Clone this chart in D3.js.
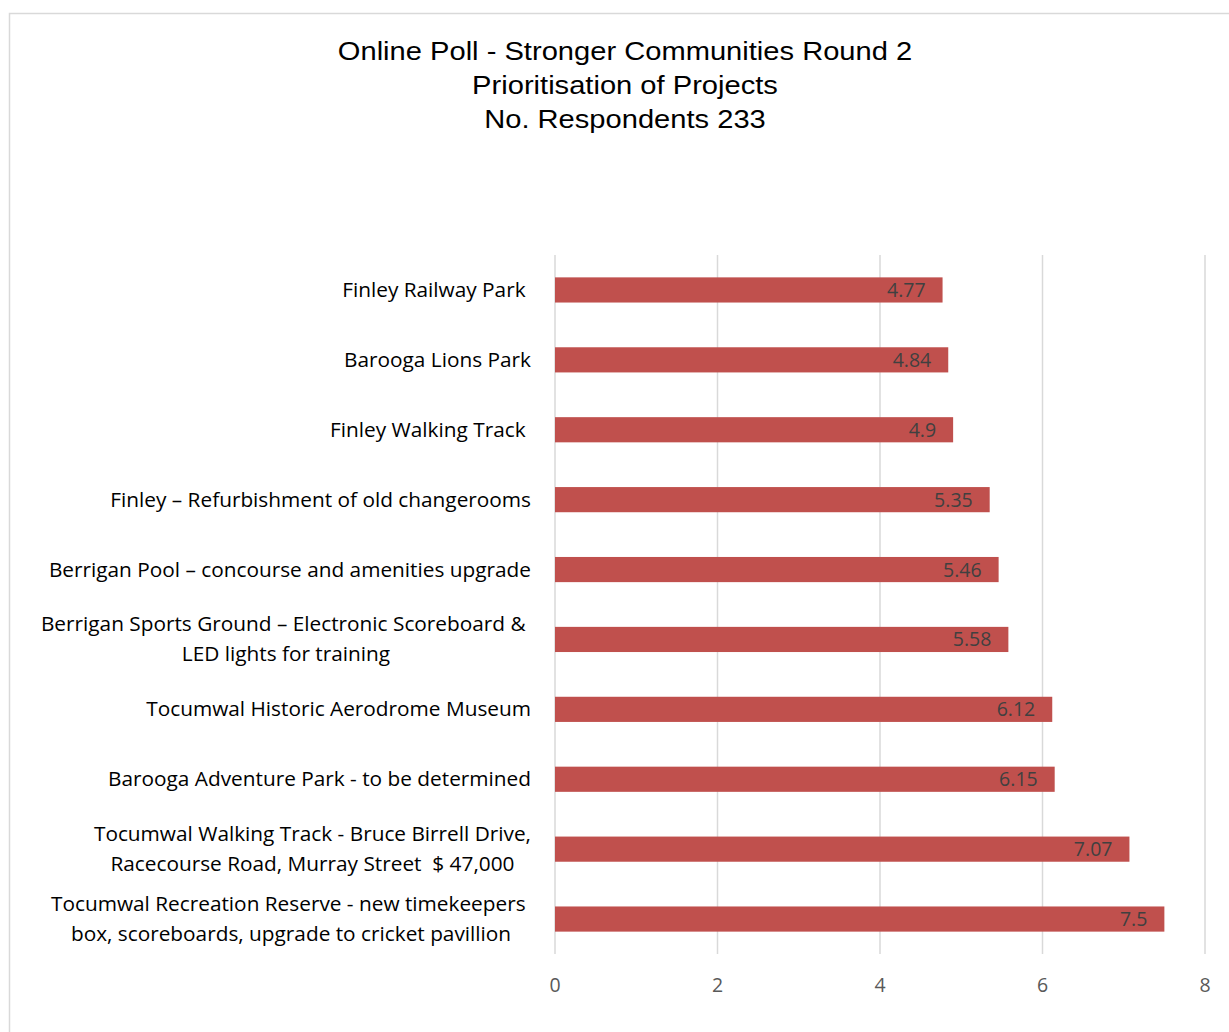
<!DOCTYPE html>
<html>
<head>
<meta charset="utf-8">
<script src="https://cdn.jsdelivr.net/npm/d3@7"></script>
<style>
  body { margin: 0; background: #fff; }
  svg text { white-space: pre; }
</style>
</head>
<body>
<div id="chart"></div>
<script>
// Project names (top to bottom) and average priority score
const projects = [
  ["Finley Railway Park "],
  ["Barooga Lions Park"],
  ["Finley Walking Track "],
  ["Finley \u2013 Refurbishment of old changerooms"],
  ["Berrigan Pool \u2013 concourse and amenities upgrade"],
  ["Berrigan Sports Ground \u2013 Electronic Scoreboard & ", "LED lights for training"],
  ["Tocumwal Historic Aerodrome Museum"],
  ["Barooga Adventure Park - to be determined"],
  ["Tocumwal Walking Track - Bruce Birrell Drive,", "Racecourse Road, Murray Street  $ 47,000"],
  ["Tocumwal Recreation Reserve - new timekeepers ", "box, scoreboards, upgrade to cricket pavillion"]
];
const scores = [4.77, 4.84, 4.9, 5.35, 5.46, 5.58, 6.12, 6.15, 7.07, 7.5];
const xTicks = [0, 2, 4, 6, 8];
const titleLines = [
  "Online Poll - Stronger Communities Round 2",
  "Prioritisation of Projects",
  "No. Respondents 233"
];

const width = 1229, height = 1032;
const margin = {top: 255, right: 24, bottom: 78, left: 555};
const labelFont = 'Open Sans, Lato, sans-serif';

const svg = d3.select('#chart').append('svg')
    .attr('width', width)
    .attr('height', height);

// chart border
svg.append('rect')
    .attr('x', 9.5).attr('y', 13.5)
    .attr('width', 1240).attr('height', 1040)
    .attr('fill', 'none')
    .attr('stroke', '#d9d9d9')
    .attr('stroke-width', 1.5);

// title (slightly widened like the original)
svg.append('g')
    .attr('transform', 'translate(625,0) scale(1.12,1)')
    .selectAll('text')
    .data(titleLines)
    .join('text')
    .attr('x', 0)
    .attr('y', (d, i) => 60 + i * 34)
    .attr('text-anchor', 'middle')
    .attr('font-family', 'Liberation Sans, Arial, sans-serif')
    .attr('font-size', 26)
    .attr('fill', '#000')
    .text(d => d);

const x = d3.scaleLinear()
    .domain([0, 8])
    .range([margin.left, width - margin.right]);

const y = d3.scaleBand()
    .domain(d3.range(projects.length))
    .range([margin.top, height - margin.bottom])
    .paddingInner(0.64)
    .paddingOuter(0.32);

// gridlines
svg.append('g').selectAll('line')
    .data(xTicks)
    .join('line')
    .attr('x1', d => x(d)).attr('x2', d => x(d))
    .attr('y1', margin.top).attr('y2', height - margin.bottom)
    .attr('stroke', '#d9d9d9')
    .attr('stroke-width', 1.5);

// x axis labels
svg.append('g').selectAll('text')
    .data(xTicks)
    .join('text')
    .attr('x', d => x(d))
    .attr('y', 992)
    .attr('text-anchor', 'middle')
    .attr('font-family', labelFont)
    .attr('font-size', 19.5)
    .attr('fill', '#595959')
    .text(d => d);

// bars
svg.append('g').selectAll('rect')
    .data(scores)
    .join('rect')
    .attr('x', x(0))
    .attr('y', (d, i) => y(i))
    .attr('width', d => x(d) - x(0))
    .attr('height', y.bandwidth())
    .attr('fill', '#c0504d');

// value labels
svg.append('g').selectAll('text')
    .data(scores)
    .join('text')
    .attr('x', d => x(d) - 17)
    .attr('y', (d, i) => y(i) + y.bandwidth() / 2 + 7)
    .attr('text-anchor', 'end')
    .attr('font-family', labelFont)
    .attr('font-size', 19.5)
    .attr('fill', '#404040')
    .text(d => d);

// category labels: block right aligned, lines centred
const labelRight = 531;
const catG = svg.append('g');
projects.forEach((lines, i) => {
  const cy = y(i) + y.bandwidth() / 2;
  const g = catG.append('g');
  const texts = lines.map((line, j) => g.append('text')
      .attr('y', cy + 7 + (j - (lines.length - 1) / 2) * 30)
      .attr('font-family', labelFont)
      .attr('font-size', 20.8)
      .attr('fill', '#000')
      .text(line));
  const maxW = d3.max(texts, t => t.node().getComputedTextLength());
  texts.forEach(t => t.attr('x', labelRight - maxW / 2).attr('text-anchor', 'middle'));
});
</script>
</body>
</html>
